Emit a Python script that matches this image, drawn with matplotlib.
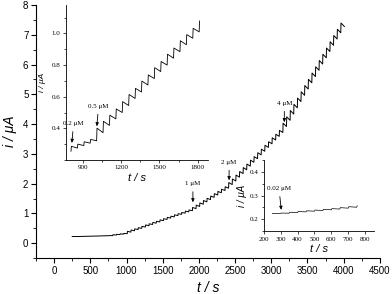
import matplotlib
matplotlib.use('Agg')
import matplotlib.pyplot as plt
from matplotlib.ticker import MultipleLocator

# addition times (s) and the current level reached after each addition (uA)
t_start = 250
level_start = 0.225

t_002 = [300, 350, 400, 450, 500, 550, 600, 650, 700, 750]
lv_002 = [0.226, 0.229, 0.232, 0.235, 0.238, 0.241, 0.244, 0.248, 0.252, 0.256]

t_02 = [810, 860, 910, 960]
lv_02 = [0.28, 0.295, 0.31, 0.325]

t_05 = [1010, 1060, 1110, 1160, 1210, 1260, 1310, 1360, 1410,
        1460, 1510, 1560, 1610, 1660, 1710, 1760, 1810, 1860]
lv_05 = [0.385, 0.43, 0.47, 0.51, 0.555, 0.60, 0.64, 0.685, 0.725,
         0.77, 0.81, 0.855, 0.895, 0.94, 0.98, 1.02, 1.065, 1.105]

t_1 = [1910, 1960, 2010, 2060, 2110, 2160, 2210, 2260, 2310, 2360]
lv_1 = [1.18, 1.255, 1.33, 1.41, 1.485, 1.56, 1.64, 1.715, 1.79, 1.87]

t_2 = [2410, 2460, 2510, 2560, 2610, 2660, 2710, 2760, 2810, 2860,
       2910, 2960, 3010, 3060, 3110]
lv_2 = [2.0, 2.12, 2.25, 2.37, 2.5, 2.62, 2.75, 2.87, 3.0, 3.12,
        3.25, 3.37, 3.5, 3.62, 3.75]

t_4 = [3160, 3210, 3260, 3310, 3360, 3410, 3460, 3510, 3560, 3610,
       3660, 3710, 3760, 3810, 3860, 3910, 3960]
lv_4 = [3.97, 4.18, 4.39, 4.6, 4.81, 5.02, 5.23, 5.44, 5.65, 5.86,
        6.07, 6.28, 6.49, 6.7, 6.91, 7.12, 7.33]

t_end = 4010


def build_trace():
    times = t_002 + t_02 + t_05 + t_1 + t_2 + t_4
    levels = lv_002 + lv_02 + lv_05 + lv_1 + lv_2 + lv_4
    xs = [t_start]
    ys = [level_start]
    prev = level_start
    for i, (t, lv) in enumerate(zip(times, levels)):
        nxt = times[i + 1] if i + 1 < len(times) else t_end
        jump = lv - prev
        # sharp rise past the new level, then a slow sag until the next addition
        xs += [t, t + 3, nxt]
        ys += [prev, lv + 0.25 * jump, lv - 0.2 * jump]
        prev = lv - 0.2 * jump
    return xs, ys


def clip(xs, ys, lo, hi):
    pts = [(x, y) for x, y in zip(xs, ys) if lo <= x <= hi]
    return [p[0] for p in pts], [p[1] for p in pts]


def style_axis(ax, lw=0.8):
    ax.spines['top'].set_visible(False)
    ax.spines['right'].set_visible(False)
    ax.spines['left'].set_linewidth(lw)
    ax.spines['bottom'].set_linewidth(lw)


xs, ys = build_trace()

plt.rcParams['font.family'] = ['Liberation Sans', 'DejaVu Sans']
fig = plt.figure(figsize=(3.92, 2.94), dpi=100)

# main plot
ax = fig.add_axes([0.092, 0.122, 0.877, 0.861])
ax.plot(xs, ys, color='black', linewidth=0.7)
ax.set_xlim(-250, 4500)
ax.set_ylim(-0.5, 8)
ax.xaxis.set_major_locator(MultipleLocator(500))
ax.xaxis.set_minor_locator(MultipleLocator(250))
ax.yaxis.set_major_locator(MultipleLocator(1))
ax.yaxis.set_minor_locator(MultipleLocator(0.5))
ax.tick_params(which='major', length=3.5, width=0.8, labelsize=7, pad=2)
ax.tick_params(which='minor', length=2, width=0.6)
style_axis(ax)
ax.set_xlabel('t / s', fontsize=10, style='italic', labelpad=4)
ax.set_ylabel('i / μA', fontsize=10, style='italic', labelpad=4)

arrow = dict(arrowstyle='-|>,head_length=0.4,head_width=0.18', color='black', lw=0.6)
main_notes = [('1 μM', 1917, 1.28, 2.0), ('2 μM', 2417, 2.02, 2.72), ('4 μM', 3180, 3.97, 4.7)]
for txt, tx, tip, ty in main_notes:
    ax.annotate(txt, xy=(tx, tip), xytext=(tx, ty), fontsize=5, family='Liberation Serif',
                ha='center', va='center', arrowprops=arrow)

# inset 1: 0.2 and 0.5 uM additions
ax1 = fig.add_axes([0.168, 0.456, 0.363, 0.527], facecolor='none')
x1, y1 = clip(xs, ys, 770, 1835)
ax1.plot(x1, y1, color='black', linewidth=0.6)
ax1.set_xlim(770, 1880)
ax1.set_ylim(0.2, 1.18)
ax1.set_xticks([900, 1200, 1500, 1800])
ax1.xaxis.set_minor_locator(MultipleLocator(150))
ax1.set_yticks([0.4, 0.6, 0.8, 1.0])
ax1.yaxis.set_minor_locator(MultipleLocator(0.1))
ax1.tick_params(which='major', length=2, width=0.5, labelsize=5, pad=2)
ax1.tick_params(which='minor', length=1.2, width=0.5)
for lab in ax1.get_xticklabels() + ax1.get_yticklabels():
    lab.set_family('Liberation Serif')
style_axis(ax1, 0.6)
ax1.set_xlabel('t / s', fontsize=8, style='italic', labelpad=2)
ax1.set_ylabel('i / μA', fontsize=6, style='italic', labelpad=4)
for txt, tx, tip, ty in [('0.2 μM', 815, 0.29, 0.43), ('0.5 μM', 1010, 0.395, 0.54)]:
    ax1.annotate(txt, xy=(tx, tip), xytext=(tx + 15, ty), fontsize=5, family='Liberation Serif',
                 ha='center', va='center', arrowprops=arrow)

# inset 2: 0.02 uM additions
ax2 = fig.add_axes([0.673, 0.214, 0.28, 0.241], facecolor='none')
x2, y2 = clip(xs, ys, 250, 800)
ax2.plot(x2, y2, color='black', linewidth=0.5)
ax2.set_xlim(200, 850)
ax2.set_ylim(0.15, 0.45)
ax2.xaxis.set_major_locator(MultipleLocator(100))
ax2.set_yticks([0.2, 0.3, 0.4])
ax2.yaxis.set_minor_locator(MultipleLocator(0.05))
ax2.tick_params(which='major', length=2, width=0.5, labelsize=5, pad=2)
ax2.tick_params(which='minor', length=1.2, width=0.5)
for lab in ax2.get_xticklabels() + ax2.get_yticklabels():
    lab.set_family('Liberation Serif')
style_axis(ax2, 0.6)
ax2.set_xlabel('t / s', fontsize=8, style='italic', labelpad=2)
ax2.set_ylabel('i / μA', fontsize=7, style='italic', labelpad=2)
ax2.annotate('0.02 μM', xy=(305, 0.228), xytext=(290, 0.33), fontsize=5, family='Liberation Serif',
             ha='center', va='center', arrowprops=arrow)

plt.savefig('out.png', dpi=100)
plt.close()
